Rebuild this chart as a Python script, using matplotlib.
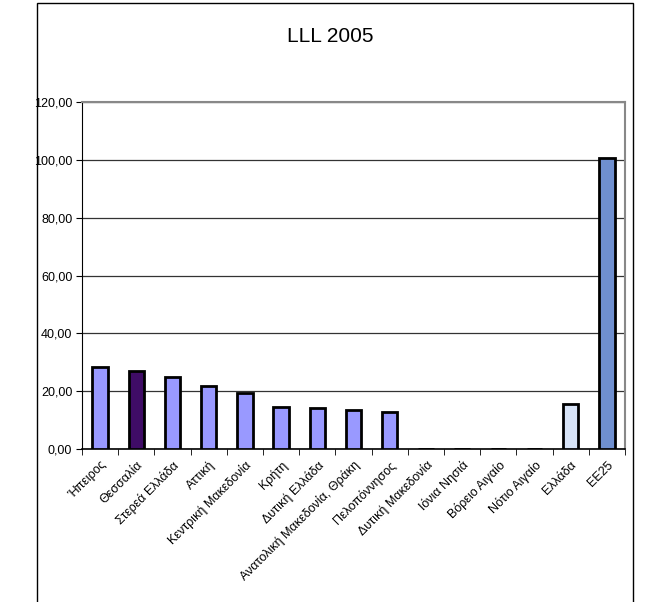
import matplotlib
matplotlib.use("Agg")
import matplotlib.pyplot as plt
from matplotlib.patches import Rectangle
from matplotlib.ticker import FuncFormatter, FixedLocator

categories = ["Ήπειρος", "Θεσσαλία", "Στερεά Ελλάδα", "Αττική", "Κεντρική Μακεδονία",
              "Κρήτη", "Δυτική Ελλάδα", "Ανατολική Μακεδονία, Θράκη", "Πελοπόννησος",
              "Δυτική Μακεδονία", "Ιόνια Νησιά", "Βόρειο Αιγαίο", "Νότιο Αιγαίο",
              "Ελλάδα", "ΕΕ25"]
values = [28.2, 27.0, 24.8, 21.9, 19.3, 14.4, 14.1, 13.5, 12.7,
          0, 0, 0, 0, 15.6, 100.5]
colors = ["#9999FF", "#3F0C66", "#9999FF", "#9999FF", "#9999FF", "#9999FF", "#9999FF",
          "#9999FF", "#9999FF", "#9999FF", "#9999FF", "#9999FF", "#9999FF",
          "#D8E4F8", "#6F8FCF"]
title = "LLL 2005"

plt.rcParams['font.family'] = ['Liberation Sans', 'DejaVu Sans']

fig = plt.figure(figsize=(6.48, 6.02), dpi=100)
fig.patches.append(Rectangle((37/648, -0.05), (633-37)/648, 1 - 3/602 + 0.05,
                             transform=fig.transFigure, fill=False,
                             edgecolor="black", linewidth=1.0))
ax = fig.add_axes([82/648, 1 - 449/602, (625-82)/648, (449-102)/602])

x = list(range(len(categories)))
ax.bar(x, values, width=0.42, color=colors, edgecolor="black", linewidth=2.0, zorder=3)

ax.set_xlim(-0.5, len(categories) - 0.5)
ax.set_ylim(0, 120)
ax.set_yticks([0, 20, 40, 60, 80, 100, 120])
ax.yaxis.set_major_formatter(FuncFormatter(lambda v, p: f"{v:.2f}".replace(".", ",")))
ax.grid(axis="y", color="#333333", linewidth=0.9, zorder=0)

ax.set_xticks(x)
ax.set_xticklabels(categories, rotation=45, ha="right", rotation_mode="anchor", fontsize=9)
ax.tick_params(axis="x", which="major", length=0, pad=7)
ax.xaxis.set_minor_locator(FixedLocator([i - 0.5 for i in range(len(categories) + 1)]))
ax.tick_params(axis="x", which="minor", length=4, color="black", direction="out")
ax.tick_params(axis="y", length=4, labelsize=9, color="black", direction="out", pad=3)

for s in ["top", "right"]:
    ax.spines[s].set_color("#888888")
    ax.spines[s].set_linewidth(1.5)
ax.spines["left"].set_color("black")
ax.spines["bottom"].set_color("black")
ax.spines["bottom"].set_linewidth(1.2)

fig.text(330/648, 1 - 37/602, title, ha="center", va="center", fontsize=15)

fig.savefig("out.png", dpi=100)
